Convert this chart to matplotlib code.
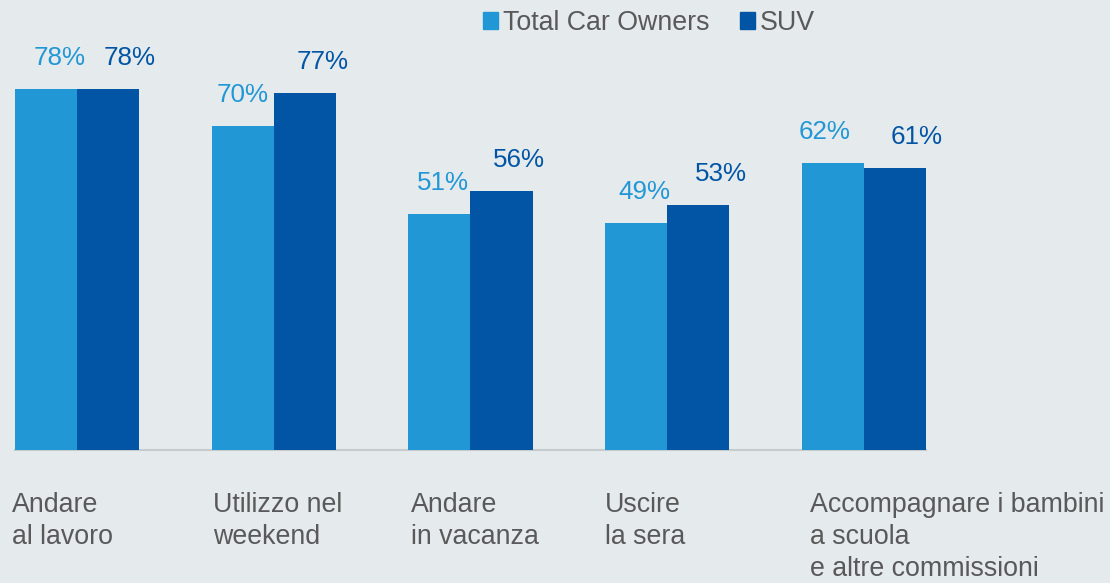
import numpy as np
import matplotlib.pyplot as plt
from matplotlib.patches import Patch

plt.rcParams['font.family'] = ['Liberation Sans', 'DejaVu Sans']

# data
categories = ['Andare\nal lavoro', 'Utilizzo nel\nweekend', 'Andare\nin vacanza',
              'Uscire\nla sera', 'Accompagnare i bambini\na scuola\ne altre commissioni']
series_names = ['Total Car Owners', 'SUV']
total_owners = [78, 70, 51, 49, 62]
suv = [78, 77, 56, 53, 61]

# label nudges in pixels (the original labels were placed by hand)
light_dx = [14, 0, 3, 8, -8]
dark_dx = [22, 18, 17, 23, 22]
cat_dx = [-3, 1, 3, 0, 8]

bg = '#E5EAED'
c_light = '#2297D5'
c_dark = '#0255A5'
c_text = '#595959'
fs_pct = 18.7
fs = 19.3

W, H = 1110, 583
fig = plt.figure(figsize=(W / 100, H / 100), dpi=100, facecolor=bg)

bw = 0.3155
x = np.arange(len(categories))
ax_left, ax_right = 15, 926
base, top_px = 450, 450 - 0.9 * 463
ax = fig.add_axes([ax_left / W, (H - base) / H, (ax_right - ax_left) / W, (base - top_px) / H])
ax.set_facecolor(bg)

ax.bar(x - bw / 2, total_owners, bw, color=c_light, zorder=3)
ax.bar(x + bw / 2, suv, bw, color=c_dark, zorder=3)

ax.set_xlim(-bw, len(categories) - 1 + bw)
ax.set_ylim(0, 90)

for s in ['top', 'right', 'left']:
    ax.spines[s].set_visible(False)
ax.spines['bottom'].set_color('#C6CBCE')
ax.spines['bottom'].set_linewidth(1.5)
ax.set_xticks([])
ax.set_yticks([])

for i in range(len(categories)):
    ax.annotate(f'{total_owners[i]}%', (x[i] - bw / 2, total_owners[i]),
                xytext=(light_dx[i], 31), textcoords='offset pixels',
                ha='center', va='center', fontsize=fs_pct, color=c_light)
    ax.annotate(f'{suv[i]}%', (x[i] + bw / 2, suv[i]),
                xytext=(dark_dx[i], 31), textcoords='offset pixels',
                ha='center', va='center', fontsize=fs_pct, color=c_dark)
    ax.annotate(categories[i], (x[i] - bw, 0), xytext=(cat_dx[i], -42),
                textcoords='offset pixels', ha='left', va='top',
                fontsize=fs, color=c_text, linespacing=1.3)

handles = [Patch(color=c_light), Patch(color=c_dark)]
fig.legend(handles, series_names, loc='center left', bbox_to_anchor=(483 / W, 1 - 23 / H),
           ncol=2, frameon=False, fontsize=fs, labelcolor=c_text,
           handlelength=0.55, handleheight=0.55, handletextpad=0.18,
           columnspacing=1.15, borderpad=0, borderaxespad=0)

fig.savefig('out.png', dpi=100, facecolor=bg)
